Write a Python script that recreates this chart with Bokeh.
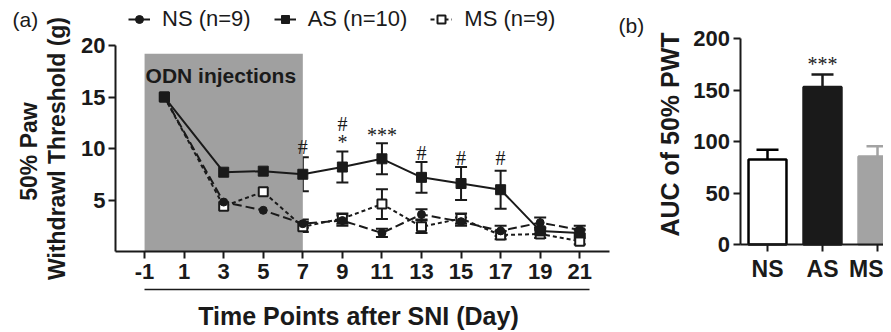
import math
from bokeh.plotting import figure
from bokeh.models import (Range1d, LinearAxis, FixedTicker, Whisker, ColumnDataSource,
                          Legend, LegendItem, Label, TeeHead)
from bokeh.embed import file_html
from bokeh.resources import INLINE

FONT = "Liberation Sans"
INK = "#1a1a1a"

# ---------------- data (panel a) ----------------
days = [0, 3, 5, 7, 9, 11, 13, 15, 17, 19, 21]
x_tick_days = [-1, 1, 3, 5, 7, 9, 11, 13, 15, 17, 19, 21]
y_ticks_a = [5, 10, 15, 20]

ns_mean = [15.0, 4.8, 4.0, 2.7, 3.0, 1.8, 3.6, 2.9, 2.0, 2.8, 2.1]
ns_sem = [0.0, 1.2, 0.8, 0.4, 0.5, 0.4, 0.5, 0.4, 0.5, 0.5, 0.4]
as_mean = [15.0, 7.7, 7.8, 7.5, 8.2, 9.0, 7.2, 6.6, 6.0, 2.0, 1.8]
as_sem = [0.0, 1.9, 1.7, 1.65, 1.5, 1.5, 1.5, 1.6, 1.85, 0.3, 0.3]
ms_mean = [15.0, 4.4, 5.8, 2.4, 3.2, 4.6, 2.4, 3.2, 1.6, 1.7, 1.0]
ms_sem = [0.0, 1.3, 1.0, 0.5, 0.5, 1.45, 0.6, 0.5, 0.4, 0.4, 0.3]

sig_x = [7, 9, 9, 11, 13, 15, 17]
sig_y = [10.1, 12.4, 10.6, 11.3, 9.6, 9.1, 9.1]
sig_text = ["#", "#", "*", "***", "#", "#", "#"]

odn_start, odn_end, odn_top = -1, 7, 19.2

# ---------------- data (panel b) ----------------
groups = ["NS", "AS", "MS"]
group_x = [0.5, 1.5, 2.5]
auc_mean = [82.5, 153.0, 85.5]
auc_sem = [9.5, 12.0, 10.0]
auc_fill = ["white", "#1a1a1a", "#a3a3a3"]
auc_line = ["black", "#1a1a1a", "#a3a3a3"]
y_ticks_b = [0, 50, 100, 150, 200]

# ---------------- view windows (axis ranges) ----------------
W, H = 883, 332
xa_lo, xa_hi = -8.284, 36.357      # panel a, x (days)
ya_lo, ya_hi = -7.864, 24.37       # panel a, y (g)
xb_lo, xb_hi = -13.445, 2.609      # panel b, x (groups)
yb_lo, yb_hi = -85.4, 236.9        # panel b, y (AUC)
xa_axis_start, xa_axis_end = -2.47, 22.5
underline_y = -3.69


def style_axis(ax, tick_size="22px"):
    ax.axis_line_width = 2
    ax.axis_line_color = INK
    ax.major_tick_line_width = 2
    ax.major_tick_line_color = INK
    ax.major_tick_in = 0
    ax.major_tick_out = 7
    ax.minor_tick_line_color = None
    ax.major_label_text_font = FONT
    ax.major_label_text_font_style = "bold"
    ax.major_label_text_font_size = tick_size
    ax.major_label_text_color = INK


def screen_text(p, text, x, y, size, bold=True, angle=0.0, align="center"):
    p.add_layout(Label(x=x, y=H - y, x_units="screen", y_units="screen", text=text,
                       angle=angle, text_align=align, text_baseline="middle",
                       text_font=FONT, text_font_size=size,
                       text_font_style="bold" if bold else "normal", text_color=INK))


p = figure(width=W, height=H, x_range=Range1d(xa_lo, xa_hi), y_range=Range1d(ya_lo, ya_hi),
           output_backend="svg", toolbar_location=None,
           x_axis_location=None, y_axis_location=None, min_border=0)
p.extra_x_ranges = {"b": Range1d(xb_lo, xb_hi)}
p.extra_y_ranges = {"b": Range1d(yb_lo, yb_hi)}
p.outline_line_color = None
p.grid.visible = False

# ================= panel (a) =================
p.quad(left=[odn_start], right=[odn_end], bottom=[0], top=[odn_top],
       fill_color="#a0a0a0", line_color=None)

ns_line = p.line(days, ns_mean, line_width=2, line_color=INK, line_dash="9 4")
ms_line = p.line(days, ms_mean, line_width=2, line_color=INK, line_dash="4 3")
as_line = p.line(days, as_mean, line_width=2, line_color=INK)

for mean, sem in ((ns_mean, ns_sem), (as_mean, as_sem), (ms_mean, ms_sem)):
    src = ColumnDataSource(dict(x=days,
                                lo=[m - s for m, s in zip(mean, sem)],
                                hi=[m + s for m, s in zip(mean, sem)]))
    p.add_layout(Whisker(source=src, base="x", lower="lo", upper="hi", dimension="height",
                         line_width=2, line_color=INK,
                         upper_head=TeeHead(size=12, line_width=2, line_color=INK),
                         lower_head=TeeHead(size=12, line_width=2, line_color=INK)))

ms_pts = p.scatter(days, ms_mean, marker="square", size=9, fill_color="white",
                   line_color=INK, line_width=2)
ns_pts = p.scatter(days, ns_mean, marker="circle", size=8, fill_color=INK, line_color=INK)
as_pts = p.scatter(days, as_mean, marker="square", size=10, fill_color=INK, line_color=INK)

p.text(x=sig_x, y=sig_y, text=sig_text, text_align="center", text_baseline="middle",
       text_font=FONT, text_font_size="20px", text_color=INK)

p.add_layout(Label(x=odn_start + 0.05, y=17.1, text="ODN injections", text_align="left",
                   text_baseline="middle", text_font=FONT, text_font_size="21px",
                   text_font_style="bold", text_color=INK))

ya = LinearAxis(ticker=FixedTicker(ticks=y_ticks_a), fixed_location=xa_axis_start,
                bounds=(0, 20))
style_axis(ya)
ya.major_label_standoff = 3
p.add_layout(ya, "left")

xa = LinearAxis(ticker=FixedTicker(ticks=x_tick_days), fixed_location=0,
                bounds=(xa_axis_start, xa_axis_end), major_label_overrides={-1: "-1"})
style_axis(xa)
xa.major_label_standoff = 5
p.add_layout(xa, "below")

xa2 = LinearAxis(ticker=FixedTicker(ticks=[]), fixed_location=underline_y,
                 bounds=(-1, 21.5))
style_axis(xa2)
xa2.axis_line_width = 1.5
p.add_layout(xa2, "below")

screen_text(p, "Time Points after SNI (Day)", 358, 315, "25px")
screen_text(p, "Withdrawl Threshold (g)", 56, 148, "23px", angle=math.pi / 2)
screen_text(p, "50% Paw", 28, 151, "23px", angle=math.pi / 2)
screen_text(p, "(a)", 12, 19, "21px", bold=False, align="left")

legend = Legend(items=[LegendItem(label="NS (n=9)", renderers=[ns_line, ns_pts]),
                       LegendItem(label="AS (n=10)", renderers=[as_line, as_pts]),
                       LegendItem(label="MS (n=9)", renderers=[ms_line, ms_pts])],
                location=(128, H - 32), orientation="horizontal", margin=0, padding=0,
                spacing=23, glyph_width=22, label_standoff=12,
                label_text_font=FONT, label_text_font_size="22px", label_text_color=INK,
                border_line_color=None, background_fill_alpha=0)
p.add_layout(legend)

# ================= panel (b) =================
err_top = [m + s for m, s in zip(auc_mean, auc_sem)]
p.segment(x0=group_x, y0=auc_mean, x1=group_x, y1=err_top, line_color=auc_line,
          line_width=2.5, x_range_name="b", y_range_name="b")
p.segment(x0=[x - 0.2 for x in group_x], y0=err_top, x1=[x + 0.2 for x in group_x],
          y1=err_top, line_color=auc_line, line_width=2.5, x_range_name="b", y_range_name="b")
p.vbar(x=group_x, top=auc_mean, width=0.69, bottom=0, fill_color=auc_fill,
       line_color=auc_line, line_width=2.5, x_range_name="b", y_range_name="b")

p.text(x=[group_x[1]], y=[err_top[1] + 10], text=["***"], text_align="center",
       text_baseline="middle", text_font=FONT, text_font_size="20px", text_color=INK,
       x_range_name="b", y_range_name="b")

yb = LinearAxis(ticker=FixedTicker(ticks=y_ticks_b), x_range_name="b", y_range_name="b",
                fixed_location=0, bounds=(0, 200))
style_axis(yb)
yb.major_label_standoff = 3
p.add_layout(yb, "left")

xb = LinearAxis(ticker=FixedTicker(ticks=group_x), x_range_name="b", y_range_name="b",
                fixed_location=0, bounds=(0, xb_hi),
                major_label_overrides={gx: g for gx, g in zip(group_x, groups)})
style_axis(xb, tick_size="23px")
xb.major_label_standoff = 4
p.add_layout(xb, "below")

screen_text(p, "AUC of 50% PWT", 669, 134, "25px", angle=math.pi / 2)
screen_text(p, "(b)", 618, 25, "21px", bold=False, align="left")

open("out.html", "w").write(file_html(p, INLINE))
